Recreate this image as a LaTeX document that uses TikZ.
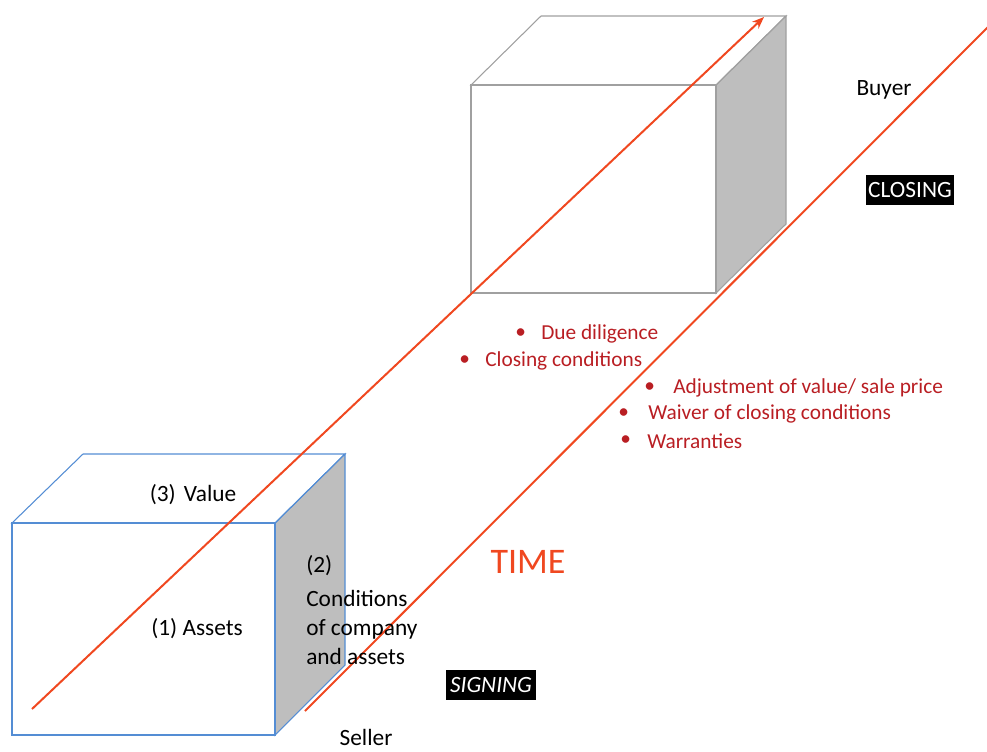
\documentclass[tikz,border=0pt]{standalone}
\usepackage{fontspec}
\setmainfont{Carlito}
\usetikzlibrary{arrows.meta}
\definecolor{timered}{RGB}{240,72,32}
\definecolor{cubeblue}{RGB}{84,141,212}
\definecolor{facegray}{RGB}{190,190,190}
\definecolor{edgegray}{RGB}{160,160,160}
\definecolor{listred}{RGB}{185,30,35}
\tikzset{
  timeline/.style={draw=timered, line width=1.5pt},
  lbl/.style={font=\fontsize{17.5}{21.75}\selectfont, inner sep=0pt},
  bullettxt/.style={font=\fontsize{16}{19}\selectfont, text=listred, inner sep=0pt, anchor=west},
  tagbox/.style={fill=black, text=white, font=\fontsize{17.5}{20}\selectfont, inner sep=2pt,
    minimum height=22.5pt, text depth=0pt},
}
\begin{document}
\begin{tikzpicture}[x=0.75pt, y=-0.75pt]
\useasboundingbox (0,0) rectangle (987,751);
% small (blue) cube
\begin{scope}[draw=cubeblue, line width=0.8pt]
  \filldraw[fill=facegray] (275,523) -- (345,454) -- (345,665) -- (275,735) -- cycle;
  \draw (12,523) -- (83,454) -- (345,454) -- (275,523) -- cycle;
  \draw (12,523) rectangle (275,735);
\end{scope}
% big (gray) cube
\begin{scope}[draw=edgegray, line width=0.8pt]
  \filldraw[fill=facegray] (716,85) -- (786,16) -- (786,224) -- (716,293) -- cycle;
  \draw (471,85) -- (541,16) -- (786,16) -- (716,85) -- cycle;
  \draw (471,85) rectangle (716,293);
\end{scope}
% timelines
\coordinate (l1s) at (32,709);
\coordinate (l1e) at (764,17);
\coordinate (l2s) at (305,711);
\coordinate (l2e) at (990,25);
\draw[timeline, -{Stealth[length=9pt, width=7pt]}] (l1s) -- (l1e);
\draw[timeline] (l2s) -- (l2e);
% labels
\node[lbl] (value) at (193,495) {(3)\hspace{0.35em}Value};
\node[lbl] (assets) at (197,629) {(1) Assets};
\node[lbl, anchor=north west, align=left] (cond) at (306,555) {(2)\\[4pt]Conditions\\of company\\and assets};
\node[lbl, anchor=base] (seller) at (366,745) {Seller};
\node[lbl] (buyer) at (884,90) {Buyer};
\node[tagbox, minimum width=65pt] (closing) at (910,190) {CLOSING};
\node[tagbox, minimum width=67.5pt, font=\fontsize{17.5}{20}\selectfont\itshape] (signing) at (491,685) {SIGNING};
\node[font=\fontsize{27}{30}\selectfont, text=timered, inner sep=0pt] (time) at (528,562) {TIME};
% bullets
\node[bullettxt] (b1d) at (515,334) {•};
\node[bullettxt] (b1) at (541,334) {Due diligence};
\node[bullettxt] (b2d) at (459,361) {•};
\node[bullettxt] (b2) at (485,361) {Closing conditions};
\node[bullettxt] (b3d) at (644,388) {•};
\node[bullettxt] (b3) at (673,388) {Adjustment of value/ sale price};
\node[bullettxt] (b4d) at (618,414) {•};
\node[bullettxt] (b4) at (648,414) {Waiver of closing conditions};
\node[bullettxt] (b5d) at (620,441) {•};
\node[bullettxt] (b5) at (647,441) {Warranties};
\end{tikzpicture}
\end{document}
